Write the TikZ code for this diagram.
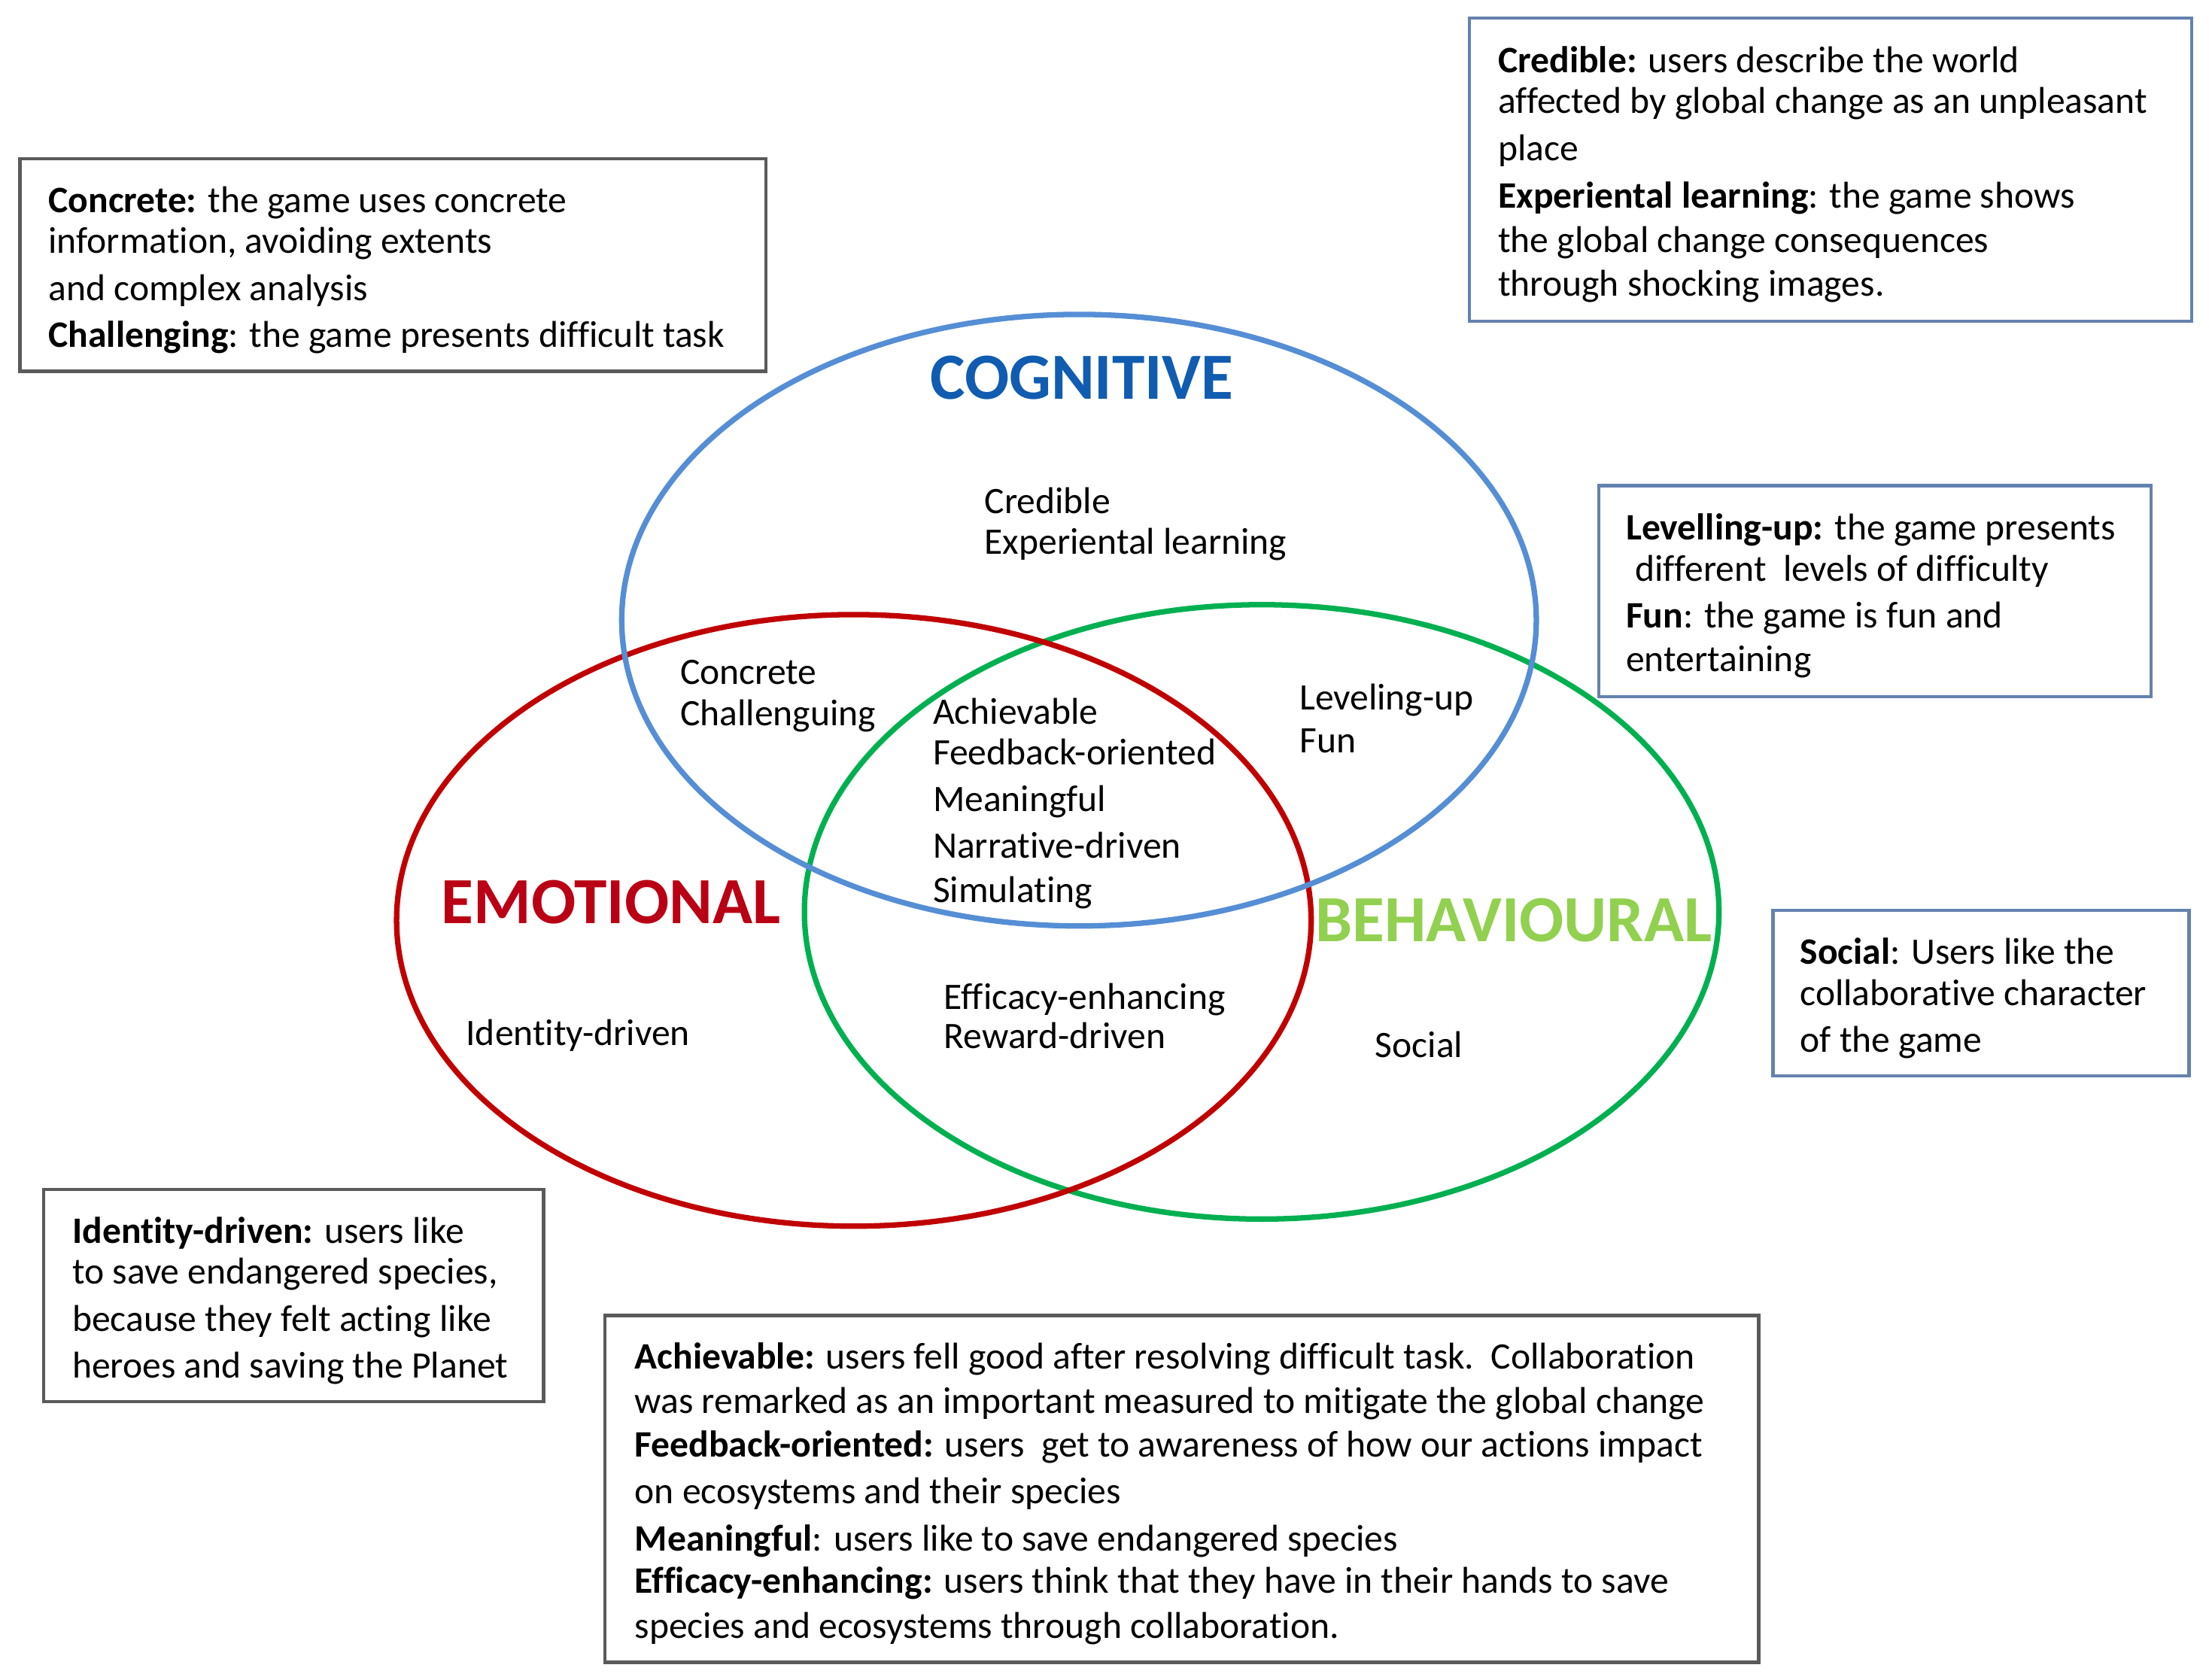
\documentclass[tikz,border=0pt]{standalone}
\usepackage{fontspec}
\setmainfont{Carlito}[Ligatures=NoCommon]
\usepackage{tikz}
\usetikzlibrary{positioning}

\definecolor{cogblue}{RGB}{85,142,213}
\definecolor{cogtext}{RGB}{16,92,176}
\definecolor{emored}{RGB}{192,0,0}
\definecolor{emotext}{RGB}{185,0,20}
\definecolor{behgreen}{RGB}{0,176,80}
\definecolor{behtext}{RGB}{146,208,80}
\definecolor{boxgray}{RGB}{90,90,90}
\definecolor{boxblue}{RGB}{100,130,175}

\newcommand{\lblfont}{\fontsize{15}{16.5}\selectfont}
\newcommand{\ttlfont}{\fontsize{26.5}{30}\selectfont\bfseries}

\tikzset{
  venn/.style={line width=2.2pt},
  lbl/.style={anchor=base west, inner sep=0pt, font=\lblfont},
  ttl/.style={anchor=base, inner sep=0pt, font=\ttlfont},
  infobox/.style={draw=#1, line width=1.3pt, inner sep=0pt},
  boxtext/.style={align=left, inner sep=0pt, font=\lblfont, yshift=-0.07cm},
}

\begin{document}
\begin{tikzpicture}[x=0.02cm, y=-0.02cm]
\useasboundingbox (0,0) rectangle (1560,1186);
% Circles
\coordinate(beh) at (891,644);
\coordinate(emo) at (603,650);
\coordinate(cog) at (762,438);
\draw[venn, behgreen] (beh) ellipse [x radius=6.46cm, y radius=4.34cm];
\draw[venn, emored] (emo) ellipse [x radius=6.46cm, y radius=4.32cm];
\draw[venn, cogblue] (cog) ellipse [x radius=6.46cm, y radius=4.32cm];
% Titles
\node(C)[ttl, text=cogtext] at (764,282) {COGNITIVE};
\node(E)[ttl, text=emotext] at (431.5,652) {EMOTIONAL};
\node(B)[ttl, text=behtext] at (1069,665) {BEHAVIOURAL};
% Labels
\node(c1)[lbl] at (695,362.7) {Credible};
\node(c2)[lbl] at (695,391.4) {Experiental learning};
\node(ce1)[lbl] at (480,483) {Concrete};
\node(ce2)[lbl] at (480,512.5) {Challenguing};
\node(m1)[lbl] at (658.5,511.6) {Achievable};
\node(m2)[lbl] at (658.5,540.3) {Feedback-oriented};
\node(m3)[lbl] at (658.5,573.3) {Meaningful};
\node(m4)[lbl] at (658.5,605.9) {Narrative-driven};
\node(m5)[lbl] at (658.5,637.2) {Simulating};
\node(cb1)[lbl] at (917.4,501.5) {Leveling-up};
\node(cb2)[lbl] at (917.4,531.5) {Fun};
\node(eb1)[lbl] at (666.3,713) {Efficacy-enhancing};
\node(eb2)[lbl] at (666.3,740.3) {Reward-driven};
\node(e1)[lbl] at (328.8,738.5) {Identity-driven};
\node(b1)[lbl] at (970.9,746.9) {Social};
% Boxes
\node(concbox)[infobox=boxgray, minimum width=10.54cm, minimum height=3.0cm] at (277.5,187.2) {};
\node(conctext)[boxtext, right=0.42cm of concbox.west]
  {\textbf{Concrete:} the game uses concrete\\
   information, avoiding extents\\[2.3pt]
   and complex analysis\\[2.3pt]
   \textbf{Challenging}: the game presents difficult task};
\node(credbox)[infobox=boxblue, minimum width=10.2cm, minimum height=4.28cm] at (1292.7,119.8) {};
\node(credtext)[boxtext, right=0.42cm of credbox.west]
  {\textbf{Credible:} users describe the world\\
   affected by global change as an unpleasant\\[2.3pt]
   place\\[2.8pt]
   \textbf{Experiental learning}: the game shows\\[1.2pt]
   the global change consequences\\[1.2pt]
   through shocking images.};
\node(levbox)[infobox=boxblue, minimum width=7.8cm, minimum height=2.98cm] at (1324,417.4) {};
\node(levtext)[boxtext, right=0.4cm of levbox.west]
  {\textbf{Levelling-up:} the game presents\\
   \hspace*{0.25em}different\ \ levels of difficulty\\[2.3pt]
   \textbf{Fun}: the game is fun and\\[1.2pt]
   entertaining};
\node(socbox)[infobox=boxblue, minimum width=5.88cm, minimum height=2.34cm] at (1399,701.5) {};
\node(soctext)[boxtext, right=0.4cm of socbox.west]
  {\textbf{Social}: Users like the\\
   collaborative character\\[2.3pt]
   of the game};
\node(idbox)[infobox=boxgray, minimum width=7.06cm, minimum height=3.0cm] at (207.4,915) {};
\node(idtext)[boxtext, right=0.42cm of idbox.west]
  {\textbf{Identity-driven:} users like\\
   to save endangered species,\\[2.3pt]
   because they felt acting like\\[2.3pt]
   heroes and saving the Planet};
\node(achbox)[infobox=boxgray, minimum width=16.3cm, minimum height=4.9cm] at (834.5,1051.5) {};
\node(achtext)[boxtext, right=0.44cm of achbox.west]
  {\textbf{Achievable:} users fell good after resolving difficult task.\ \ Collaboration\\[1.2pt]
   was remarked as an important measured to mitigate the global change\\[1.2pt]
   \textbf{Feedback-oriented:} users\ \ get to awareness of how our actions impact\\[2.3pt]
   on ecosystems and their species\\[2.3pt]
   \textbf{Meaningful}: users like to save endangered species\\[0.6pt]
   \textbf{Efficacy-enhancing:} users think that they have in their hands to save\\[1.7pt]
   species and ecosystems through collaboration.};
\end{tikzpicture}
\end{document}
